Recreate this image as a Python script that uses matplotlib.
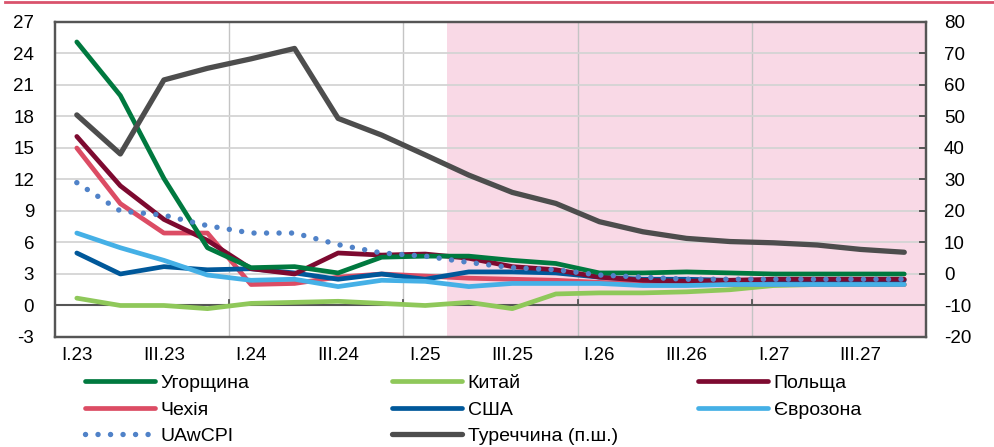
import matplotlib.pyplot as plt
from matplotlib.lines import Line2D

plt.rcParams['font.family'] = ['Liberation Sans', 'DejaVu Sans']
plt.rcParams['axes.unicode_minus'] = False

# quarterly inflation, % y/y (I.23 .. IV.27)
quarters = [f'{q}.{y}' for y in range(23, 28) for q in ['I', 'II', 'III', 'IV']]
hungary = [25.1, 20.0, 12.1, 5.5, 3.6, 3.7, 3.1, 4.6, 4.7, 4.7,
           4.3, 4.0, 3.1, 3.1, 3.2, 3.1, 3.0, 3.0, 3.0, 3.0]
china = [0.7, 0.0, 0.0, -0.3, 0.2, 0.3, 0.4, 0.2, 0.0, 0.3,
         -0.3, 1.1, 1.2, 1.2, 1.3, 1.5, 1.9, 2.0, 2.0, 2.0]
poland = [16.1, 11.4, 8.2, 6.2, 3.5, 3.0, 5.0, 4.8, 4.9, 4.5,
          3.7, 3.4, 2.7, 2.4, 2.3, 2.4, 2.5, 2.5, 2.5, 2.5]
czechia = [15.0, 9.7, 6.9, 6.9, 2.0, 2.1, 2.7, 3.0, 2.8, 2.6,
           2.5, 2.4, 2.2, 2.1, 2.0, 2.0, 2.0, 2.0, 2.0, 2.0]
usa = [5.0, 3.0, 3.7, 3.4, 3.5, 3.1, 2.5, 3.0, 2.5, 3.2,
       3.2, 3.1, 2.7, 2.5, 2.5, 2.4, 2.4, 2.4, 2.4, 2.4]
eurozone = [6.9, 5.5, 4.3, 2.9, 2.4, 2.5, 1.8, 2.4, 2.3, 1.8,
            2.1, 2.1, 2.1, 1.9, 1.9, 2.0, 2.0, 2.0, 2.0, 2.0]
uawcpi = [11.7, 9.0, 8.6, 7.6, 6.9, 6.9, 5.8, 5.0, 4.7, 4.1,
          3.6, 3.4, 2.9, 2.7, 2.5, 2.5, 2.5, 2.5, 2.5, 2.5]
turkey = [50.5, 38.1, 61.6, 65.3, 68.3, 71.6, 49.4, 44.1, 37.8, 31.4,
          25.9, 22.4, 16.6, 13.4, 11.3, 10.3, 9.9, 9.2, 7.8, 6.9]
forecast_from = 'II.25'

x = list(range(len(quarters)))

fig = plt.figure(figsize=(9.95, 4.47), dpi=100)
ax = fig.add_axes([0.0553, 0.2461, 0.8754, 0.7047])
ax2 = ax.twinx()

# forecast period shading
ax.axvspan(quarters.index(forecast_from) - 0.5, len(quarters) - 0.5,
           color='#f9d9e6', lw=0, zorder=0.1)

lw = 3.4
series = [
    ('Угорщина', hungary, '#00793f', 6),
    ('Китай', china, '#8fc85a', 2),
    ('Польща', poland, '#7d0a30', 5),
    ('Чехія', czechia, '#dc4c64', 3),
    ('США', usa, '#00589a', 4),
    ('Єврозона', eurozone, '#45b0e6', 5.5),
]
handles = {}
for name, vals, col, z in series:
    handles[name], = ax.plot(x, vals, color=col, lw=lw, zorder=z,
                             solid_capstyle='round', solid_joinstyle='round', label=name)
handles['UAwCPI'], = ax.plot(x, uawcpi, color='#5082c8', lw=3.9, ls=(0, (0.01, 2.3)),
                             dash_capstyle='round', zorder=7, label='UAwCPI')
handles['Туреччина (п.ш.)'], = ax2.plot(x, turkey, color='#4d4d4d', lw=3.8,
                                         solid_capstyle='round', label='Туреччина (п.ш.)')

# axes and grid
ax.set_xlim(-0.5, len(quarters) - 0.5)
ax.set_ylim(-3, 27)
ax.set_yticks(range(-3, 28, 3))
ax2.set_ylim(-20, 80)
ax2.set_yticks(range(-20, 81, 10))
ax.set_xticks(x[::2])
ax.set_xticklabels(quarters[::2])

ax.set_axisbelow(True)
ax.grid(axis='y', color='#d4d4d4', lw=1.3)
for b in range(3, len(quarters) - 1, 4):
    ax.axvline(b + 0.5, color='#c4c4c4', lw=1.0, zorder=0.5)
    ax.plot([b + 0.5, b + 0.5], [0, 0.55], color='#555555', lw=1.3, zorder=1)
ax.axhline(0, color='#555555', lw=1.5, zorder=1)

for a in (ax, ax2):
    for s in a.spines.values():
        s.set_color('#555555')
        s.set_linewidth(1.6)
ax.tick_params(axis='x', length=0, labelsize=13.5, pad=7)
ax.tick_params(axis='y', length=0, labelsize=13.5, pad=15)
ax2.tick_params(axis='y', direction='in', length=5, width=1.4, color='#555555',
                labelsize=13.5, pad=13)
ax.patch.set_visible(False)
ax2.set_zorder(ax.get_zorder() + 1)
ax2.patch.set_visible(False)

# legend in three columns
columns = [
    (0.0854, ['Угорщина', 'Чехія', 'UAwCPI']),
    (0.394, ['Китай', 'США', 'Туреччина (п.ш.)']),
    (0.7015, ['Польща', 'Єврозона']),
]
for xpos, names in columns:
    fig.legend([handles[n] for n in names], names, loc='upper left',
               bbox_to_anchor=(xpos, 0.162), frameon=False, fontsize=14,
               borderpad=0, borderaxespad=0, handlelength=3.6, handletextpad=0.3,
               labelspacing=0.45)

# thin rule at the top
fig.add_artist(Line2D([0.005, 1.0], [0.995, 0.995], color='#d9536c', lw=2))

fig.savefig('out.png', dpi=100)
